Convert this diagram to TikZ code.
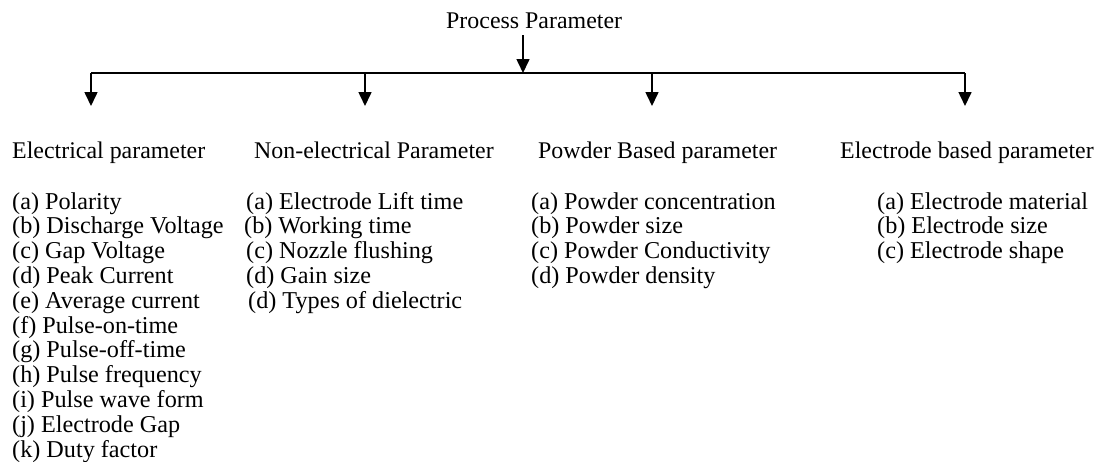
\documentclass[tikz,border=0pt]{standalone}
\usepackage{fontspec}
\setmainfont{Liberation Serif}
\usetikzlibrary{arrows.meta}
\tikzset{
  txt/.style={anchor=base west, inner sep=0pt, font=\fontsize{24.2}{25}\selectfont},
  head/.style={txt, font=\fontsize{23.9}{25}\selectfont},
  conn/.style={line width=1.6pt},
  arr/.style={conn, -{Triangle[length=14pt,width=13pt]}}
}
\begin{document}
\begin{tikzpicture}[x=1pt,y=-1pt]
\useasboundingbox (0,0) rectangle (1102,461);
% top
\node[head] (pp) at (446,28) {Process Parameter};
\coordinate (ptop) at (523,35);
\coordinate (j) at (523,73);
\coordinate (L) at (91,73);
\coordinate (R) at (965,73);
\coordinate (j2) at (365,73);
\coordinate (j3) at (652,73);
\coordinate (e1) at (91,106);
\coordinate (e2) at (365,106);
\coordinate (e3) at (652,106);
\coordinate (e4) at (965,106);
\draw[arr] (ptop) -- (j);
\draw[conn] (e1 |- L) -- (R);
\draw[arr] (L) -- (e1);
\draw[arr] (j2) -- (e2);
\draw[arr] (j3) -- (e3);
\draw[arr] (R) -- (e4);
% headers
\node[head] (h1) at (12,158) {Electrical parameter};
\node[head] (h2) at (254,158) {Non-electrical Parameter};
\node[head] (h3) at (538,158) {Powder Based parameter};
\node[head] (h4) at (840,158) {Electrode based parameter};
% column 1
\node[txt] (a1) at (12,209) {(a) Polarity};
\node[txt] (b1) at (12,233.8) {(b) Discharge Voltage};
\node[txt] (c1) at (12,258.6) {(c) Gap Voltage};
\node[txt] (d1) at (12,283.4) {(d) Peak Current};
\node[txt] (e1t) at (12,308.2) {(e) Average current};
\node[txt] (f1) at (12,333) {(f) Pulse-on-time};
\node[txt] (g1) at (12,357.8) {(g) Pulse-off-time};
\node[txt] (hh1) at (12,382.6) {(h) Pulse frequency};
\node[txt] (i1) at (12,407.4) {(i) Pulse wave form};
\node[txt] (jj1) at (12,432.2) {(j) Electrode Gap};
\node[txt] (k1) at (12,457) {(k) Duty factor};
% column 2
\node[txt] (a2) at (246,209) {(a) Electrode Lift time};
\node[txt] (b2) at (244,233.8) {(b) Working time};
\node[txt] (c2) at (246,258.6) {(c) Nozzle flushing};
\node[txt] (d2) at (246,283.4) {(d) Gain size};
\node[txt] (dd2) at (248,308.2) {(d) Types of dielectric};
% column 3
\node[txt] (a3) at (531,209) {(a) Powder concentration};
\node[txt] (b3) at (531,233.8) {(b) Powder size};
\node[txt] (c3) at (531,258.6) {(c) Powder Conductivity};
\node[txt] (d3) at (531,283.4) {(d) Powder density};
% column 4
\node[txt] (a4) at (877,209) {(a) Electrode material};
\node[txt] (b4) at (877,233.8) {(b) Electrode size};
\node[txt] (c4) at (877,258.6) {(c) Electrode shape};
\end{tikzpicture}
\end{document}
